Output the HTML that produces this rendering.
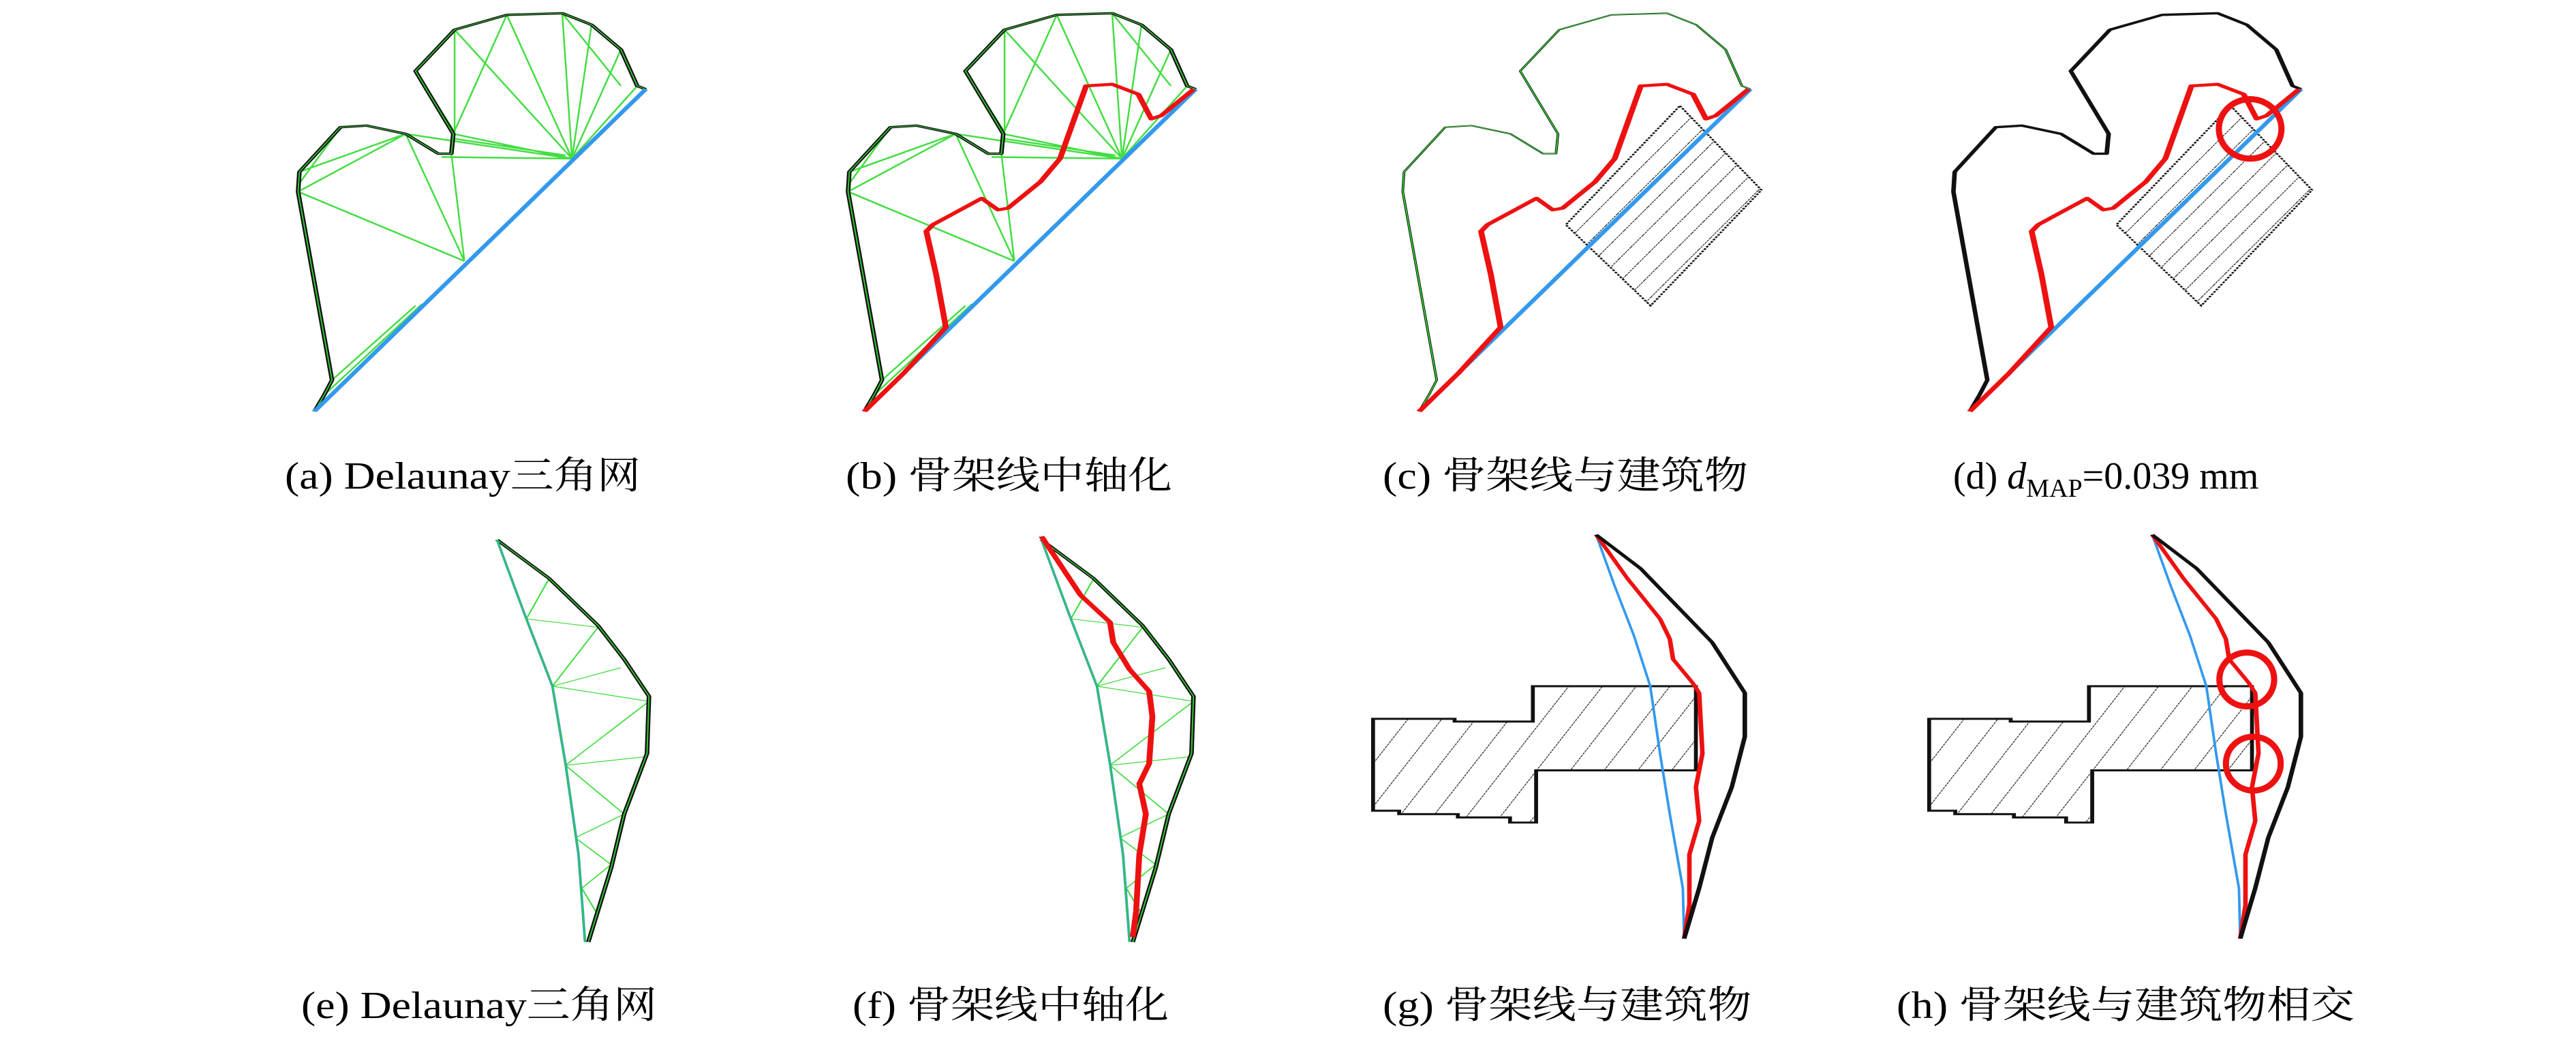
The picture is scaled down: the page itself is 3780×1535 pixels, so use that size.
<!DOCTYPE html>
<html><head><meta charset="utf-8"><style>
html,body{margin:0;padding:0;background:#fff;}
svg{display:block;}
text{font-family:"Liberation Serif","Noto Serif CJK SC","Noto Sans CJK SC",serif;fill:#000;}
.bl{fill:none;stroke:#3399ee;stroke-width:8;vector-effect:non-scaling-stroke;stroke-linejoin:round;}
.bln{fill:none;stroke:#3399ee;stroke-width:4;vector-effect:non-scaling-stroke;}
.rd{fill:none;stroke:#ee1111;stroke-width:9;vector-effect:non-scaling-stroke;stroke-linejoin:round;}
.bk{fill:none;stroke:#111;stroke-width:7;vector-effect:non-scaling-stroke;stroke-linejoin:round;}
.bkt{fill:none;stroke:#111;stroke-width:4;vector-effect:non-scaling-stroke;stroke-linejoin:round;}
.gro{fill:none;stroke:#33cc33;stroke-width:2;vector-effect:non-scaling-stroke;}
.gr{fill:none;stroke:#44dd44;stroke-width:2.5;vector-effect:non-scaling-stroke;}
.bd{stroke:#111;stroke-width:3.5;vector-effect:non-scaling-stroke;stroke-dasharray:5 3;}
.bds{fill:none;stroke:#111;stroke-width:6;vector-effect:non-scaling-stroke;}
.circ{fill:none;stroke:#ee1111;stroke-width:9;vector-effect:non-scaling-stroke;}
</style></head><body>
<svg width="3780" height="1535" viewBox="0 0 3780 1535" xmlns="http://www.w3.org/2000/svg">
<defs>
<path id="outA" d="M85,1245 L100,1195 L112,1150 L60,580 L62,520 L125,385 L165,380 L225,405 L275,465 L295,465 L298,405 L240,215 L300,90 L380,45 L465,40 L510,75 L555,150 L580,260 L593,270"/>
<path id="bluA" d="M85,1245 L593,270"/>
<path id="redA" d="M85,1245 L145,1130 L210,990 L195,830 L180,700 L190,680 L265,600 L290,635 L305,630 L355,550 L385,480 L425,260 L465,255 L505,285 L525,360 L540,350 L590,270"/>
<g id="triA">
<path class="gr" d="M480,480 L300,90 M480,480 L380,45 M480,480 L465,40 M480,480 L510,75 M480,480 L555,150 M480,480 L580,260 M480,480 L280,475 M480,480 L298,405 M480,480 L225,405 M298,405 L380,45 M300,90 L300,400 M240,215 L300,400 M465,40 L555,260 M315,790 L225,405 M315,790 L295,465 M315,790 L60,580 M60,580 L225,405 M62,520 L225,405 M125,385 L60,560 M112,1150 L240,925 M100,1195 L250,920 M280,475 L480,480 M300,420 L470,470"/>
</g>
<pattern id="hc" width="32" height="40" patternUnits="userSpaceOnUse" patternTransform="rotate(27)">
<line x1="0" y1="0" x2="0" y2="40" stroke="#111" stroke-width="3" stroke-dasharray="5 2"/>
</pattern>
<pattern id="hg" width="48" height="40" patternUnits="userSpaceOnUse" patternTransform="rotate(22)">
<line x1="0" y1="0" x2="0" y2="40" stroke="#222" stroke-width="3" stroke-dasharray="6 2"/>
</pattern>
<path id="bldC" d="M485,320 L610,575 L440,925 L310,680 Z"/>
<path id="bluE" d="M365,65 L410,300 L450,500 L470,730 L490,1000 L500,1260"/>
<path id="outE" d="M365,65 L445,180 L520,320 L560,420 L598,530 L595,700 L560,880 L540,1040 L505,1260"/>
<path id="triE" d="M410,300 L445,180 M410,300 L520,325 M450,500 L520,325 M450,500 L555,445 M450,500 L598,545 M470,735 L598,545 M470,735 L590,710 M470,735 L560,880 M485,950 L560,880 M485,950 L540,1030 M495,1100 L540,1030 M495,1100 L520,1180"/>
<path id="redE" d="M365,55 L425,230 L470,310 L475,370 L500,450 L530,515 L535,590 L530,730 L515,790 L525,880 L515,1000 L510,1170 L505,1245"/>
<path id="bluG" d="M462,50 L490,200 L520,350 L545,500 L560,700 L575,880 L595,1100 L597,1250"/>
<path id="outG" d="M462,50 L530,150 L590,270 L640,370 L690,520 L690,650 L670,800 L640,950 L620,1100 L597,1250"/>
<path id="redG" d="M462,50 L510,180 L560,300 L575,360 L580,420 L610,490 L620,520 L625,700 L615,800 L620,900 L605,1000 L605,1150 L597,1250"/>
<path id="bldG" d="M120,597 L245,597 L245,605 L365,605 L365,500 L615,500 L615,750 L370,750 L370,905 L330,905 L330,890 L250,890 L250,880 L160,880 L160,870 L120,870 Z"/>
</defs>

<g transform="translate(380,0) scale(0.957,0.485)">
<use href="#triA"/>
<use href="#outA" class="bk"/><use href="#outA" class="gro"/>
<use href="#bluA" class="bl"/>
</g>
<g transform="translate(1187,0) scale(0.957,0.485)">
<use href="#triA"/>
<use href="#outA" class="bk"/><use href="#outA" class="gro"/>
<use href="#bluA" class="bl"/>
<use href="#redA" class="rd"/>
</g>
<g transform="translate(2001,0) scale(0.957,0.485)">
<path d="M485,320 L610,575 L440,925 L310,680 Z" fill="url(#hc)"/>
<use href="#bldC" fill="none" class="bd"/>
<use href="#outA" class="bkt"/><use href="#outA" class="gro"/>
<use href="#bluA" class="bl"/>
<use href="#redA" class="rd"/>
</g>
<g transform="translate(2809,0) scale(0.957,0.485)">
<path d="M485,320 L610,575 L440,925 L310,680 Z" fill="url(#hc)"/>
<use href="#bldC" fill="none" class="bd"/>
<use href="#outA" class="bk"/>
<use href="#bluA" class="bl"/>
<use href="#redA" class="rd"/>
<ellipse cx="515" cy="390" rx="48" ry="90" class="circ"/>
</g>

<g transform="translate(380,760) scale(0.957,0.494)">
<use href="#triE" class="gr"/>
<use href="#outE" class="bk"/><use href="#outE" class="gro"/>
<use href="#bluE" class="bln"/><use href="#bluE" class="gro"/>
</g>
<g transform="translate(1179,760) scale(0.957,0.494)">
<use href="#triE" class="gr"/>
<use href="#outE" class="bk"/><use href="#outE" class="gro"/>
<use href="#bluE" class="bln"/><use href="#bluE" class="gro"/>
<use href="#redE" class="rd"/>
</g>
<g transform="translate(1900,760) scale(0.957,0.494)">
<path d="M120,597 L245,597 L245,605 L365,605 L365,500 L615,500 L615,750 L370,750 L370,905 L330,905 L330,890 L250,890 L250,880 L160,880 L160,870 L120,870 Z" fill="url(#hg)"/>
<use href="#bldG" class="bds"/>
<use href="#bluG" class="bln"/>
<use href="#redG" class="rd" style="stroke-width:7"/>
<use href="#outG" class="bk"/>
</g>
<g transform="translate(2716,760) scale(0.957,0.494)">
<path d="M120,597 L245,597 L245,605 L365,605 L365,500 L615,500 L615,750 L370,750 L370,905 L330,905 L330,890 L250,890 L250,880 L160,880 L160,870 L120,870 Z" fill="url(#hg)"/>
<use href="#bldG" class="bds"/>
<use href="#bluG" class="bln"/>
<use href="#redG" class="rd" style="stroke-width:7"/>
<use href="#outG" class="bk"/>
<ellipse cx="607" cy="480" rx="42" ry="80" class="circ"/>
<ellipse cx="617" cy="730" rx="42" ry="80" class="circ"/>
</g>

<g font-size="56">
<text x="418" y="717" textLength="522" lengthAdjust="spacingAndGlyphs">(a) Delaunay三角网</text>
<text x="1241" y="717" textLength="479" lengthAdjust="spacingAndGlyphs">(b) 骨架线中轴化</text>
<text x="2029" y="717" textLength="536" lengthAdjust="spacingAndGlyphs">(c) 骨架线与建筑物</text>
<text x="2866" y="717">(d) <tspan font-style="italic">d</tspan><tspan font-size="38" dy="12">MAP</tspan><tspan dy="-12">=0.039 mm</tspan></text>
<text x="442" y="1494" textLength="522" lengthAdjust="spacingAndGlyphs">(e) Delaunay三角网</text>
<text x="1251" y="1494" textLength="464" lengthAdjust="spacingAndGlyphs">(f) 骨架线中轴化</text>
<text x="2029" y="1494" textLength="541" lengthAdjust="spacingAndGlyphs">(g) 骨架线与建筑物</text>
<text x="2783" y="1494" textLength="672" lengthAdjust="spacingAndGlyphs">(h) 骨架线与建筑物相交</text>
</g>
</svg>
</body></html>
